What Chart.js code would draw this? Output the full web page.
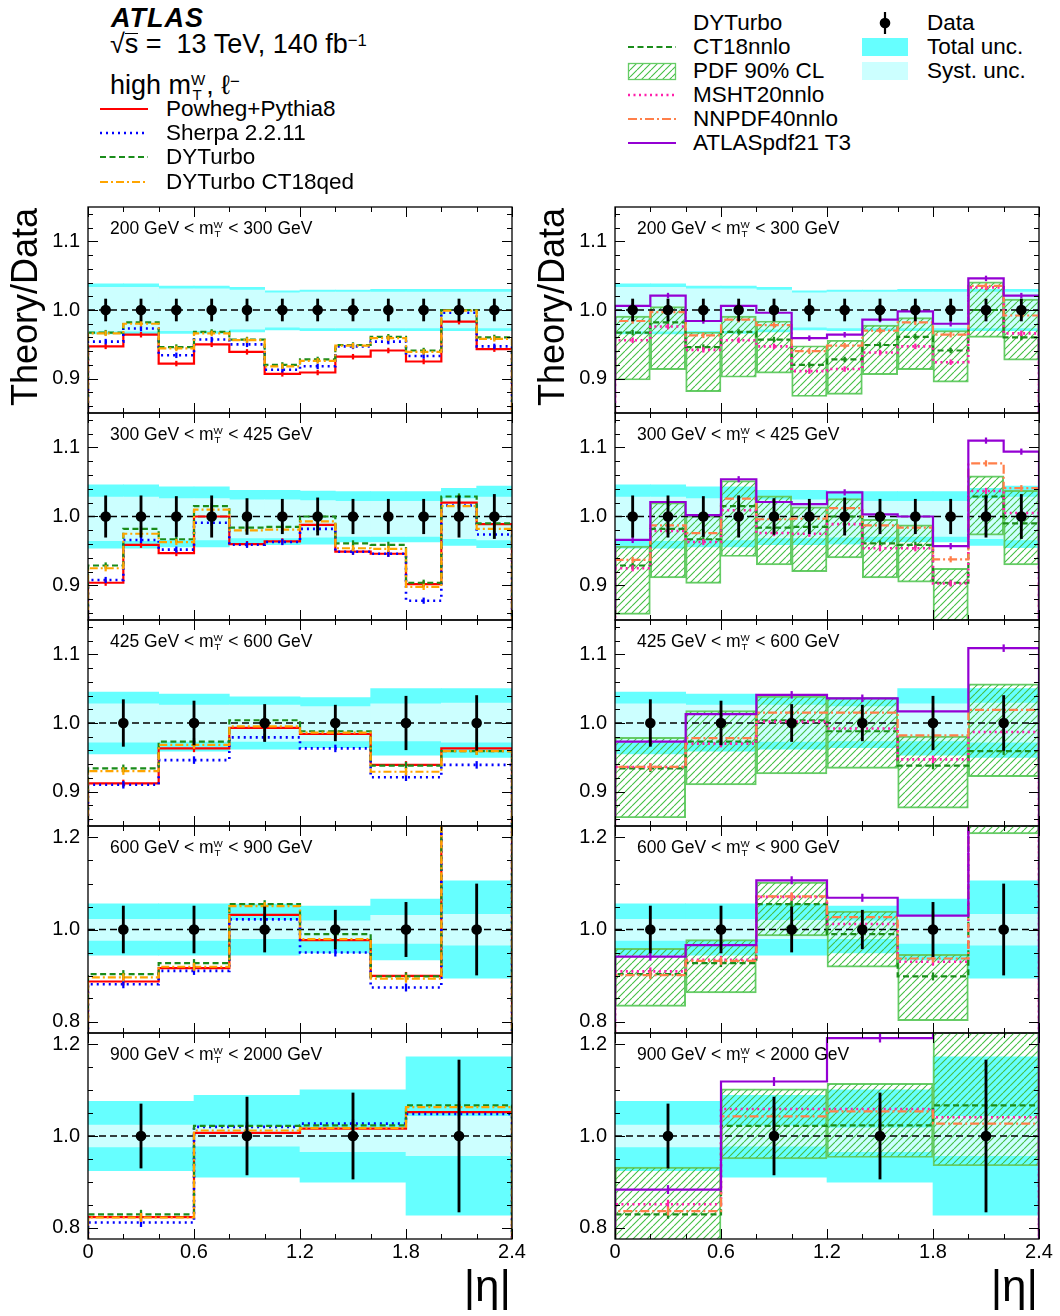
<!DOCTYPE html>
<html>
<head>
<meta charset="utf-8">
<title>Theory/Data vs |eta|, high mT W-</title>
<script src="https://cdn.jsdelivr.net/npm/chart.js@4.4.1/dist/chart.umd.min.js"></script>
<style>
  html, body { margin: 0; padding: 0; background: #fff; }
  #page { position: relative; width: 1060px; height: 1316px; overflow: hidden;
          font-family: 'Liberation Sans', Arial, Helvetica, sans-serif; color: #000; }
  .txt { position: absolute; white-space: nowrap; line-height: 1; }
  .panel { position: absolute; }
  .ss { display: inline-block; position: relative; width: 1em; height: 0; font-size: 0.56em; }
  .ss .up, .ss .dn { position: absolute; line-height: 1; }
  .ss .up { left: 0; bottom: 0.45em; }
  .ss .dn { left: 0.1em; bottom: -0.52em; }
  .sp { position: relative; top: -0.44em; font-size: 0.62em; }
  .ovl { display: inline-block; border-top: 1.6px solid #000; line-height: 0.72; padding-top: 1px; }
  .ytitle { position: absolute; width: 240px; text-align: center; font-size: 36px; line-height: 1;
            transform: rotate(-90deg); white-space: nowrap; }
</style>
</head>
<body>
<div id="page">
  <svg id="keys" width="1060" height="200" style="position:absolute;left:0;top:0">
    <defs>
      <pattern id="hatchKey" width="7" height="7" patternUnits="userSpaceOnUse">
        <path d="M-7,7 L0,0 M0,7 L7,0 M7,7 L14,0" stroke="#44bf44" stroke-width="1.1"/>
      </pattern>
    </defs>
  </svg>
  <div class="txt" style="left:111px;top:5px;font-size:27px;font-weight:bold;font-style:italic;letter-spacing:1px">ATLAS</div>
  <div class="txt" style="left:110px;top:31px;font-size:27px">√<span class="ovl">s</span> =&nbsp; 13 TeV, 140 fb<span class="sp">−1</span></div>
  <div class="txt" style="left:110px;top:72px;font-size:27px">high m<span class="ss"><span class="up">W</span><span class="dn">T</span></span>, ℓ<span class="sp">−</span></div>
</div>
<script>
Chart.defaults.font.family = "'Liberation Sans', Arial, Helvetica, sans-serif";
Chart.defaults.color = '#000';

// ---------- binning in |eta| ----------
const edges12 = [0, 0.2, 0.4, 0.6, 0.8, 1.0, 1.2, 1.4, 1.6, 1.8, 2.0, 2.2, 2.4];
const edges6 = [0, 0.4, 0.8, 1.2, 1.6, 2.0, 2.4];
const edges4 = [0, 0.6, 1.2, 1.8, 2.4];
const rowEdges = [edges12, edges12, edges6, edges6, edges4];
const massBins = [['200', '300'], ['300', '425'], ['425', '600'], ['600', '900'], ['900', '2000']];
const xTicks = [0, 0.6, 1.2, 1.8, 2.4];
const yTicks = [[0.9, 1.0, 1.1], [0.9, 1.0, 1.1], [0.9, 1.0, 1.1], [0.8, 1.0, 1.2], [0.8, 1.0, 1.2]];

// ---------- measurement uncertainty bands (ratio to data) ----------
const totUp = [
  [1.038, 1.038, 1.035, 1.035, 1.033, 1.028, 1.029, 1.029, 1.030, 1.030, 1.030, 1.030],
  [1.046, 1.046, 1.043, 1.043, 1.038, 1.038, 1.037, 1.036, 1.036, 1.036, 1.041, 1.044],
  [1.045, 1.042, 1.038, 1.037, 1.050, 1.050],
  [1.056, 1.056, 1.055, 1.051, 1.066, 1.106],
  [1.076, 1.089, 1.101, 1.173]
];
const totDn = [
  [0.965, 0.965, 0.966, 0.966, 0.968, 0.971, 0.970, 0.970, 0.970, 0.970, 0.970, 0.970],
  [0.954, 0.954, 0.956, 0.956, 0.959, 0.959, 0.960, 0.963, 0.963, 0.963, 0.958, 0.955],
  [0.955, 0.959, 0.962, 0.964, 0.953, 0.950],
  [0.944, 0.944, 0.944, 0.949, 0.934, 0.894],
  [0.924, 0.910, 0.899, 0.827]
];
const sysUp = [
  [1.033, 1.033, 1.031, 1.031, 1.029, 1.025, 1.026, 1.026, 1.026, 1.026, 1.026, 1.026],
  [1.028, 1.028, 1.026, 1.026, 1.024, 1.024, 1.023, 1.022, 1.022, 1.022, 1.026, 1.028],
  [1.028, 1.026, 1.026, 1.024, 1.028, 1.029],
  [1.022, 1.022, 1.020, 1.019, 1.031, 1.033],
  [1.024, 1.022, 1.018, 1.043]
];
const sysDn = [
  [0.969, 0.969, 0.970, 0.970, 0.972, 0.975, 0.974, 0.974, 0.974, 0.974, 0.974, 0.974],
  [0.965, 0.965, 0.966, 0.966, 0.969, 0.969, 0.970, 0.971, 0.971, 0.971, 0.968, 0.966],
  [0.972, 0.973, 0.973, 0.974, 0.974, 0.972],
  [0.976, 0.976, 0.980, 0.980, 0.970, 0.966],
  [0.976, 0.978, 0.966, 0.957]
];
// data statistical error bars
const dataErr = [
  [0.016, 0.016, 0.016, 0.016, 0.016, 0.016, 0.016, 0.016, 0.016, 0.016, 0.016, 0.016],
  [0.030, 0.030, 0.029, 0.030, 0.026, 0.025, 0.027, 0.025, 0.025, 0.025, 0.030, 0.032],
  [0.034, 0.032, 0.027, 0.026, 0.039, 0.040],
  [0.051, 0.051, 0.049, 0.042, 0.059, 0.099],
  [0.070, 0.085, 0.094, 0.166]
];

// ---------- generator predictions (left column) ----------
const powheg = [
  [0.947, 0.964, 0.922, 0.950, 0.939, 0.907, 0.909, 0.932, 0.941, 0.925, 0.983, 0.943],
  [0.904, 0.959, 0.947, 1.000, 0.960, 0.964, 0.988, 0.949, 0.946, 0.902, 1.020, 0.989],
  [0.912, 0.963, 0.993, 0.984, 0.939, 0.963],
  [0.887, 0.916, 1.032, 0.977, 0.899, 1.400],
  [0.823, 1.007, 1.016, 1.052]
];
const sherpa = [
  [0.954, 0.973, 0.934, 0.957, 0.950, 0.913, 0.918, 0.947, 0.954, 0.933, 0.996, 0.947],
  [0.908, 0.966, 0.952, 0.991, 0.959, 0.963, 0.982, 0.949, 0.946, 0.878, 1.016, 0.974],
  [0.910, 0.946, 0.979, 0.963, 0.921, 0.939],
  [0.881, 0.910, 1.022, 0.950, 0.874, 1.400],
  [0.811, 1.020, 1.027, 1.048]
];
const dyturbo = [
  [0.967, 0.982, 0.946, 0.968, 0.957, 0.920, 0.928, 0.949, 0.961, 0.941, 1.000, 0.960],
  [0.929, 0.982, 0.967, 1.015, 0.984, 0.985, 1.000, 0.961, 0.959, 0.904, 1.029, 0.990],
  [0.934, 0.973, 1.004, 0.988, 0.938, 0.959],
  [0.903, 0.927, 1.055, 0.990, 0.898, 1.400],
  [0.829, 1.022, 1.023, 1.067]
];
const ct18qed = [
  [0.966, 0.980, 0.944, 0.966, 0.956, 0.918, 0.926, 0.948, 0.959, 0.939, 0.999, 0.958],
  [0.925, 0.975, 0.963, 1.010, 0.980, 0.981, 0.993, 0.954, 0.953, 0.898, 1.015, 0.982],
  [0.930, 0.968, 0.995, 0.986, 0.929, 0.959],
  [0.896, 0.919, 1.051, 0.979, 0.893, 1.400],
  [0.822, 1.012, 1.017, 1.063]
];

// ---------- DYTurbo with different PDF sets (right column) ----------
const ct18nnlo = dyturbo;
const msht = [
  [0.956, 0.976, 0.942, 0.956, 0.947, 0.911, 0.914, 0.938, 0.947, 0.924, 1.033, 0.966],
  [0.925, 0.979, 0.963, 1.009, 0.976, 0.975, 0.989, 0.954, 0.954, 0.903, 1.037, 1.005],
  [0.936, 0.970, 1.002, 0.992, 0.947, 0.987],
  [0.909, 0.934, 1.071, 1.012, 0.930, 1.400],
  [0.851, 1.059, 1.059, 1.041]
];
const nnpdf = [
  [0.984, 0.997, 0.963, 0.986, 0.978, 0.940, 0.948, 0.970, 0.982, 0.964, 1.035, 0.992],
  [0.937, 0.987, 0.976, 1.026, 0.996, 0.997, 1.012, 0.987, 0.984, 0.938, 1.077, 1.041],
  [0.936, 0.978, 1.015, 1.015, 0.982, 1.019],
  [0.901, 0.932, 1.072, 1.027, 0.937, 1.400],
  [0.836, 1.043, 1.054, 1.027]
];
const atlaspdf = [
  [1.006, 1.021, 0.984, 1.006, 0.996, 0.959, 0.964, 0.986, 0.998, 0.980, 1.046, 1.021],
  [0.966, 1.021, 1.002, 1.054, 1.021, 1.018, 1.035, 1.003, 1.000, 0.957, 1.110, 1.094],
  [0.973, 1.013, 1.041, 1.036, 1.017, 1.109],
  [0.941, 0.966, 1.107, 1.069, 1.030, 1.400],
  [0.883, 1.119, 1.214, 1.400]
];
// CT18 PDF 90% CL envelope
const pdfUp = [
  [0.991, 1.005, 0.968, 0.991, 0.984, 0.948, 0.956, 0.978, 0.989, 0.970, 1.041, 1.016],
  [0.957, 1.020, 1.001, 1.052, 1.030, 1.014, 1.026, 0.996, 0.988, 0.925, 1.059, 1.038],
  [0.979, 1.018, 1.039, 1.037, 0.981, 1.057],
  [0.959, 0.978, 1.103, 1.040, 0.946, 1.500],
  [0.932, 1.103, 1.115, 1.250]
];
const pdfDn = [
  [0.898, 0.913, 0.881, 0.902, 0.908, 0.874, 0.877, 0.906, 0.913, 0.895, 0.960, 0.927],
  [0.858, 0.911, 0.903, 0.942, 0.930, 0.920, 0.940, 0.911, 0.905, 0.840, 0.973, 0.930],
  [0.862, 0.910, 0.926, 0.934, 0.876, 0.922],
  [0.833, 0.862, 0.986, 0.918, 0.802, 1.208],
  [0.760, 0.950, 0.953, 0.935]
];
// MC statistical error per mass bin
const mcStat = [0.0035, 0.004, 0.005, 0.008, 0.009];

// ---------- styles ----------
const sty = {
  powheg:   {color: '#ff0000', width: 2.2, dash: []},
  sherpa:   {color: '#0000ff', width: 2.6, dash: [2, 4]},
  dyturbo:  {color: '#1a8c1a', width: 2.2, dash: [6, 3.5]},
  ct18qed:  {color: '#ffa500', width: 2.2, dash: [8, 3, 2, 3]},
  msht:     {color: '#ff1faa', width: 2.6, dash: [2, 3.5]},
  nnpdf:    {color: '#ff7f4a', width: 2.2, dash: [9, 3, 2, 3]},
  atlaspdf: {color: '#9400d3', width: 2.2, dash: []}
};
const totalColor = '#66ffff', systColor = '#ccffff', hatchColor = '#44bf44', hatchEdge = '#66cc66';

// ---------- helpers ----------
const mids = e => e.slice(1).map((v, i) => (v + e[i]) / 2);
const band = (e, lo, hi) => mids(e).map((x, i) => ({x, y: [lo[i], hi[i]]}));
function stepPoints(e, vals) {
  const n = e.length - 1;
  const pts = [{x: e[0], y: 0}];
  vals.forEach((v, i) => pts.push({x: e[i], y: v}));
  pts.push({x: e[n], y: vals[n - 1]}, {x: e[n], y: 0});
  return pts;
}
function bandSet(data, bg, order, extra) {
  return Object.assign({type: 'bar', data, backgroundColor: bg, borderWidth: 0, grouped: false,
    barPercentage: 1, categoryPercentage: 1, order, clip: 0}, extra || {});
}
function errSet(data, color, thick, order) {
  return {type: 'bar', data, backgroundColor: color, borderWidth: 0, grouped: false,
    barThickness: thick, order, clip: 0};
}
function stepSet(data, s, order) {
  return {type: 'line', data, borderColor: s.color, borderWidth: s.width, borderDash: s.dash,
    borderCapStyle: 'butt', borderJoinStyle: 'miter', stepped: true, pointRadius: 0,
    fill: false, order, clip: 0};
}
function hatch(ctx) {
  const s = 7, t = document.createElement('canvas');
  t.width = s; t.height = s;
  const g = t.getContext('2d');
  g.strokeStyle = hatchColor; g.lineWidth = 1.1;
  g.beginPath();
  for (const o of [-s, 0, s]) { g.moveTo(o, s); g.lineTo(o + s, 0); }
  g.stroke();
  return ctx.createPattern(t, 'repeat');
}

// frame with inward ticks on all four sides
const frameTicks = {
  id: 'frameTicks',
  afterDatasetsDraw(chart, args, o) {
    const {ctx, chartArea: a, scales: {x, y}} = chart;
    ctx.save();
    ctx.strokeStyle = '#000';
    ctx.lineWidth = 1;
    ctx.beginPath();
    for (let k = 0; k * 0.2 <= 2.4 + 1e-9; k++) {
      const px = Math.round(x.getPixelForValue(k * 0.2)) + 0.5;
      const L = k % 3 === 0 ? 10 : 5;
      ctx.moveTo(px, a.bottom); ctx.lineTo(px, a.bottom - L);
      ctx.moveTo(px, a.top); ctx.lineTo(px, a.top + L);
    }
    const st = o.yMinorStep;
    for (let k = Math.ceil(y.min / st - 1e-9); k * st <= y.max + 1e-9; k++) {
      const v = k * st;
      const py = Math.round(y.getPixelForValue(v)) + 0.5;
      const L = o.yMajor.some(m => Math.abs(m - v) < 1e-6) ? 10 : 5;
      ctx.moveTo(a.left, py); ctx.lineTo(a.left + L, py);
      ctx.moveTo(a.right, py); ctx.lineTo(a.right - L, py);
    }
    ctx.stroke();
    ctx.lineWidth = 1.3;
    ctx.strokeRect(a.left, a.top, a.right - a.left, a.bottom - a.top);
    ctx.restore();
  }
};

// ---------- layout ----------
const page = document.getElementById('page');
const colLeft = [88, 615];
const rowTop = [207, 413, 620, 826, 1033, 1239];
const yRange = [[0.85, 1.15], [0.85, 1.15], [0.85, 1.15], [0.775, 1.225], [0.775, 1.225]];
const PW = 424, ML = 60, MR = 20, MV = 24;

function addText(x, top, size, html, extra) {
  const d = document.createElement('div');
  d.className = 'txt';
  d.style.left = x + 'px';
  d.style.top = top + 'px';
  d.style.fontSize = size + 'px';
  if (extra) Object.assign(d.style, extra);
  d.innerHTML = html;
  page.appendChild(d);
  return d;
}

function drawPanel(r, c) {
  const left = colLeft[c], top = rowTop[r], h = rowTop[r + 1] - top;
  const last = r === 4;
  const xh = last ? 34 : 0;
  const w = ML + PW + MR, hh = MV + h + MV + xh;
  const box = document.createElement('div');
  box.className = 'panel';
  box.style.left = (left - ML) + 'px';
  box.style.top = (top - MV) + 'px';
  const cv = document.createElement('canvas');
  cv.width = w; cv.height = hh;
  cv.style.width = w + 'px'; cv.style.height = hh + 'px';
  box.appendChild(cv);
  page.appendChild(box);
  const ctx = cv.getContext('2d');

  const E = rowEdges[r], X = mids(E);
  const datasets = [
    bandSet(band(E, totDn[r], totUp[r]), totalColor, 20),
    bandSet(band(E, sysDn[r], sysUp[r]), systColor, 19)
  ];
  if (c === 1) {
    datasets.push(bandSet(band(E, pdfDn[r], pdfUp[r]), hatch(ctx), 18,
      {borderColor: hatchEdge, borderWidth: 1.3, borderSkipped: false}));
  }
  datasets.push({type: 'line', data: [{x: E[0], y: 1}, {x: E[E.length - 1], y: 1}],
    borderColor: '#000', borderWidth: 1.6, borderDash: [7, 4], pointRadius: 0, order: 17, clip: 0});

  const models = c === 0
    ? [['powheg', powheg], ['sherpa', sherpa], ['dyturbo', dyturbo], ['ct18qed', ct18qed]]
    : [['dyturbo', ct18nnlo], ['msht', msht], ['nnpdf', nnpdf], ['atlaspdf', atlaspdf]];
  models.forEach(([k, vals], i) => {
    const v = vals[r];
    datasets.push(stepSet(stepPoints(E, v), sty[k], 14 - i));
    datasets.push(errSet(X.map((x, j) => ({x, y: [v[j] - mcStat[r], v[j] + mcStat[r]]})),
      sty[k].color, 1.6, 10 - i));
  });
  datasets.push(errSet(X.map((x, j) => ({x, y: [1 - dataErr[r][j], 1 + dataErr[r][j]]})), '#000', 2.2, 2));
  datasets.push({type: 'line', data: X.map(x => ({x, y: 1})), showLine: false, pointRadius: 5.3,
    pointBackgroundColor: '#000', pointBorderColor: '#000', pointBorderWidth: 0, order: 1, clip: 0});

  new Chart(cv, {
    type: 'line',
    data: {datasets},
    options: {
      animation: false, responsive: false, devicePixelRatio: 1,
      layout: {padding: {left: 0, right: MR, top: MV, bottom: MV}},
      plugins: {legend: {display: false}, tooltip: {enabled: false},
        frameTicks: {yMajor: yTicks[r], yMinorStep: r < 3 ? 0.02 : 0.05}},
      scales: {
        x: {
          type: 'linear', min: 0, max: 2.4, offset: false,
          grid: {display: false, drawTicks: false}, border: {display: false},
          afterBuildTicks: s => { s.ticks = xTicks.map(v => ({value: v})); },
          afterFit: s => { s.height = xh; },
          ticks: {display: last, padding: 1, font: {size: 20}, maxRotation: 0, autoSkip: false,
            callback: v => (v === 0 ? '0' : v.toFixed(1))}
        },
        y: {
          type: 'linear', min: yRange[r][0], max: yRange[r][1],
          grid: {display: false, drawTicks: false}, border: {display: false},
          afterBuildTicks: s => { s.ticks = yTicks[r].map(v => ({value: v})); },
          afterFit: s => { s.width = ML; },
          ticks: {padding: 8, font: {size: 20}, callback: v => v.toFixed(1)}
        }
      }
    },
    plugins: [frameTicks]
  });

  const [lo, hi] = massBins[r];
  addText(left + 22, top + 13, 17.5,
    `${lo} GeV &lt; m<span class="ss"><span class="up">W</span><span class="dn">T</span></span> &lt; ${hi} GeV`);
}

for (let r = 0; r < 5; r++) for (let c = 0; c < 2; c++) drawPanel(r, c);

// axis titles
[25, 552].forEach(cx => {
  const d = document.createElement('div');
  d.className = 'ytitle';
  d.style.left = (cx - 120) + 'px';
  d.style.top = (307 - 18) + 'px';
  d.textContent = 'Theory/Data';
  page.appendChild(d);
});
[511, 1038].forEach(rx => {
  addText(rx - 100, 1264, 44, '|η|', {width: '100px', textAlign: 'right'});
});

// ---------- legends ----------
const svgNS = 'http://www.w3.org/2000/svg';
const keys = document.getElementById('keys');
function svgEl(tag, attrs) {
  const e = document.createElementNS(svgNS, tag);
  for (const k in attrs) e.setAttribute(k, attrs[k]);
  keys.appendChild(e);
  return e;
}
function keyLine(x1, x2, y, s) {
  svgEl('line', {x1, x2, y1: y, y2: y, stroke: s.color, 'stroke-width': s.width,
    'stroke-dasharray': s.dash.length ? s.dash.join(' ') : 'none'});
}
const KS = 22.5;
const keyText = (x, cy, t) => addText(x, cy - 0.49 * KS, KS, t);

[['Powheg+Pythia8', 'powheg', 109], ['Sherpa 2.2.11', 'sherpa', 133],
 ['DYTurbo', 'dyturbo', 157], ['DYTurbo CT18qed', 'ct18qed', 182]].forEach(([t, k, y]) => {
  keyLine(100, 148, y, sty[k]);
  keyText(166, y, t);
});

keyText(693, 23, 'DYTurbo');
[['CT18nnlo', 'dyturbo', 47], ['MSHT20nnlo', 'msht', 95],
 ['NNPDF40nnlo', 'nnpdf', 119], ['ATLASpdf21 T3', 'atlaspdf', 143]].forEach(([t, k, y]) => {
  keyLine(628, 676, y, sty[k]);
  keyText(693, y, t);
});
svgEl('rect', {x: 628.5, y: 63.5, width: 47, height: 16, fill: 'url(#hatchKey)', stroke: hatchEdge, 'stroke-width': 1.3});
keyText(693, 71, 'PDF 90% CL');

svgEl('line', {x1: 885, x2: 885, y1: 12, y2: 34, stroke: '#000', 'stroke-width': 2.2});
svgEl('circle', {cx: 885, cy: 23, r: 5.3, fill: '#000'});
keyText(927, 23, 'Data');
svgEl('rect', {x: 862, y: 38, width: 46, height: 18, fill: totalColor});
keyText(927, 47, 'Total unc.');
svgEl('rect', {x: 862, y: 62, width: 46, height: 18, fill: systColor});
keyText(927, 71, 'Syst. unc.');
</script>
</body>
</html>
